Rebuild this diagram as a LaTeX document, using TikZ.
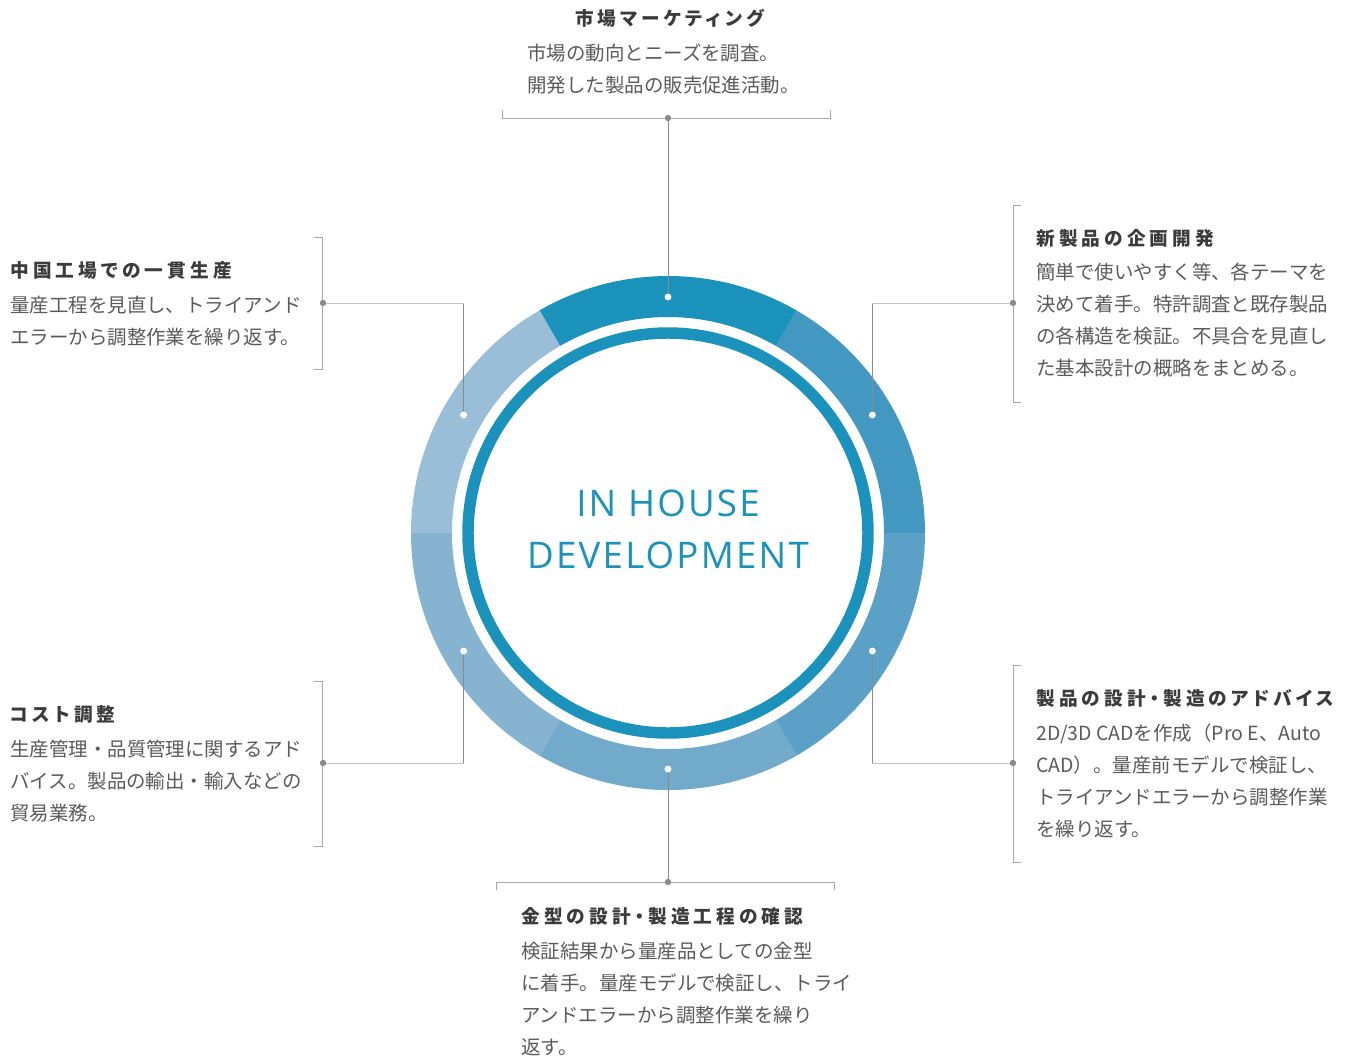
\documentclass[tikz,border=0pt]{standalone}
\usepackage{fontspec}
\setmainfont{Noto Sans CJK JP}
\newfontfamily\jp{Noto Sans CJK JP}
\newfontfamily\jptitle[RawFeature=+palt, LetterSpace=22]{Noto Sans CJK JP}
\newfontfamily\en{Open Sans}
\usetikzlibrary{positioning}

\definecolor{ringmain}{HTML}{1B92BC}
\definecolor{segA}{HTML}{4298C0}
\definecolor{segB}{HTML}{9ABED8}
\definecolor{segC}{HTML}{86B3D0}
\definecolor{segD}{HTML}{72AACB}
\definecolor{segE}{HTML}{5BA0C7}
\definecolor{textdark}{HTML}{3B3B3B}
\definecolor{textgray}{HTML}{5A5A5A}
\definecolor{linedark}{HTML}{8A8A8A}
\definecolor{linelight}{HTML}{C4C4C4}
\definecolor{linemid}{HTML}{A8A8A8}

\begin{document}
\begin{tikzpicture}[x=0.75pt, y=0.75pt,
    title/.style={inner sep=0, text=textdark, font=\jptitle\bfseries\fontsize{14pt}{18pt}\selectfont},
    body/.style={inner sep=0, text=textgray, align=left, anchor=north west, font=\jp\fontsize{14.6pt}{24pt}\selectfont},
    centertext/.style={inner sep=0, text=ringmain, font=\en\fontsize{27.5pt}{30pt}\selectfont\addfontfeature{LetterSpace=6}},
    conn/.style={linedark, line width=0.75pt},
    stub/.style={linelight, line width=0.75pt},
    bracket/.style={linemid, line width=0.75pt},
    wdot/.style={circle, fill=white, inner sep=0, minimum size=5.2pt},
    jdot/.style={circle, fill=linedark, inner sep=0, minimum size=4.5pt}]
  \useasboundingbox (-668,-525) rectangle (680,533);

  % 外側のリング
  \foreach \a/\c in {0/segA, 60/ringmain, 120/segB, 180/segC, 240/segD, 300/segE}
    \fill [\c] (\a:216) arc [start angle=\a, end angle=\a+60, radius=216]
      -- ({\a+60}:257) arc [start angle=\a+60, end angle=\a, radius=257] -- cycle;

  % 内側のリング
  \draw [ringmain, line width=8.6pt] (0,0) circle [radius=200];

  % 中央の文字
  \node [centertext] (head) at (0,30) {IN HOUSE};
  \node [centertext] (sub) at (0,-22.5) {DEVELOPMENT};

  % 分岐点
  \node [jdot] (j1) at (0,415) {};
  \node [jdot] (j2) at (345,230) {};
  \node [jdot] (j3) at (345,-230) {};
  \node [jdot] (j4) at (0,-349) {};
  \node [jdot] (j5) at (-345,-230) {};
  \node [jdot] (j6) at (-345,230) {};

  % 括弧
  \draw [bracket] (-165,423) -- (-165,415) -- (162,415) -- (162,423);
  \draw [bracket] (353,328) -- (345,328) -- (345,131) -- (353,131);
  \draw [bracket] (353,-132) -- (345,-132) -- (345,-329) -- (353,-329);
  \draw [bracket] (-171,-357) -- (-171,-349) -- (166,-349) -- (166,-357);
  \draw [bracket] (-354,-148) -- (-345,-148) -- (-345,-313) -- (-354,-313);
  \draw [bracket] (-354,296) -- (-345,296) -- (-345,164) -- (-354,164);

  % リング上の点
  \foreach \n/\a in {1/90, 2/30, 3/-30, 4/-90, 5/-150, 6/150}
    \coordinate (w\n) at (\a:236);

  % 引き出し線
  \draw [conn] (w1) -- (j1);
  \draw [conn] (w4) -- (j4);
  \foreach \n in {2,3,5,6} {
    \draw [conn] (w\n) -- (w\n |- j\n);
    \draw [stub] (w\n |- j\n) -- (j\n);
  }
  \foreach \n in {1,...,6}
    \node [wdot] at (w\n) {};
  \foreach \n in {1,...,6}
    \node [jdot] at (j\n) {};

  % 説明
  \node [title] (t1) at (1.5,515) {市場マーケティング};
  \node [body] (b1) at (-141,489) {市場の動向とニーズを調査。\\開発した製品の販売促進活動。};

  \node [title, anchor=west] (t2) at (368,295) {新製品の企画開発};
  \node [body] (b2) at (368,270) {簡単で使いやすく等、各テーマを\\決めて着手。特許調査と既存製品\\の各構造を検証。不具合を見直し\\た基本設計の概略をまとめる。};

  \node [title, anchor=west] (t3) at (368,-165) {製品の設計・製造のアドバイス};
  \node [body] (b3) at (368,-191) {2D/3D CADを作成（Pro E、Auto\\CAD）。量産前モデルで検証し、\\トライアンドエラーから調整作業\\を繰り返す。};

  \node [title, anchor=west] (t4) at (-147,-383) {金型の設計・製造工程の確認};
  \node [body] (b4) at (-147,-409) {検証結果から量産品としての金型\\に着手。量産モデルで検証し、トライ\\アンドエラーから調整作業を繰り\\返す。};

  \node [title, anchor=west] (t5) at (-658,-181) {コスト調整};
  \node [body] (b5) at (-658,-207) {生産管理・品質管理に関するアド\\バイス。製品の輸出・輸入などの\\貿易業務。};

  \node [title, anchor=west] (t6) at (-658,263) {中国工場での一貫生産};
  \node [body] (b6) at (-658,237) {量産工程を見直し、トライアンド\\エラーから調整作業を繰り返す。};
\end{tikzpicture}
\end{document}
